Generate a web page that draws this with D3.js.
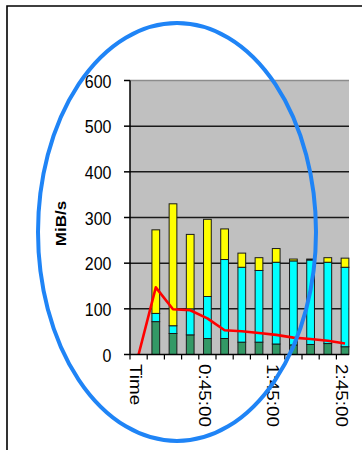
<!DOCTYPE html>
<html>
<head>
<meta charset="utf-8">
<script src="https://cdn.jsdelivr.net/npm/d3@7"></script>
<style>
  body { margin: 0; background: #fff; }
  text { font-family: "Liberation Sans", Arial, sans-serif; fill: #000; }
</style>
</head>
<body>
<svg id="chart"></svg>
<script>
// Values (MiB/s per 15 minute slot)
const categories = [
  "Time", "0:00:00", "0:15:00", "0:30:00", "0:45:00", "1:00:00", "1:15:00",
  "1:30:00", "1:45:00", "2:00:00", "2:15:00", "2:30:00", "2:45:00",
];
const greenValues = [0, 72, 46, 43, 35, 35, 27, 27, 23, 21, 22, 24, 17];
const cyanValues = [0, 18, 17, 57, 92, 173, 164, 157, 179, 184, 185, 178, 174];
const yellowValues = [0, 183, 267, 163, 169, 67, 31, 28, 30, 4, 2, 10, 20];
const lineValues = [0, 147, 99, 97, 79, 53, 51, 47, 43, 37, 34, 30, 24];
const yTicks = [0, 100, 200, 300, 400, 500, 600];
const xLabels = ["Time", "0:45:00", "1:45:00", "2:45:00"];
const yTitle = "MiB/s";

// Layout of the picture
const W = 362;
const H = 450;
const plot = { left: 130, top: 80.5, right: 349, bottom: 354.5 };
const bandEnd = 353.6;
const stretch = 1.18; // the source image was stretched vertically

const svg = d3.select("#chart").attr("width", W).attr("height", H);

svg.append("rect").attr("width", W).attr("height", H).attr("fill", "#fff");

// outer frame (only left and top edges are in view)
svg
  .append("path")
  .attr("d", "M7," + H + "V6H" + W)
  .attr("fill", "none")
  .attr("stroke", "#000")
  .attr("stroke-width", 1.6);

const xScale = d3
  .scaleBand()
  .domain(categories)
  .range([plot.left, bandEnd])
  .padding(0);
const yScale = d3
  .scaleLinear()
  .domain([0, 600])
  .range([plot.bottom, plot.top]);

// plot background
svg
  .append("rect")
  .attr("x", plot.left)
  .attr("y", plot.top)
  .attr("width", plot.right - plot.left)
  .attr("height", plot.bottom - plot.top)
  .attr("fill", "#c0c0c0");

// gridlines
svg
  .selectAll(".grid")
  .data(yTicks.filter(function (t) { return t > 0; }))
  .enter()
  .append("line")
  .attr("class", "grid")
  .attr("x1", plot.left)
  .attr("x2", plot.right)
  .attr("y1", function (d) { return yScale(d); })
  .attr("y2", function (d) { return yScale(d); })
  .attr("stroke", function (d) { return d === 600 ? "#8c8c8c" : "#1a1a1a"; })
  .attr("stroke-width", 1.5);

// stacked bars
const rows = categories.map(function (c, i) {
  return { cat: c, green: greenValues[i], cyan: cyanValues[i], yellow: yellowValues[i] };
});
const stack = d3.stack().keys(["green", "cyan", "yellow"]);
const colors = { green: "#339966", cyan: "#00ffff", yellow: "#ffff00" };
const barW = xScale.bandwidth() * 0.45;

svg
  .selectAll(".layer")
  .data(stack(rows))
  .enter()
  .append("g")
  .attr("class", "layer")
  .attr("fill", function (d) { return colors[d.key]; })
  .selectAll("rect")
  .data(function (d) {
    return d.filter(function (s) { return s[1] - s[0] > 0; });
  })
  .enter()
  .append("rect")
  .attr("x", function (d) {
    return xScale(d.data.cat) + (xScale.bandwidth() - barW) / 2;
  })
  .attr("y", function (d) { return yScale(d[1]); })
  .attr("width", barW)
  .attr("height", function (d) { return yScale(d[0]) - yScale(d[1]); })
  .attr("stroke", "#1a1a1a")
  .attr("stroke-width", 1);

// red line
const line = d3
  .line()
  .x(function (d, i) { return xScale(categories[i]) + xScale.bandwidth() / 2; })
  .y(function (d) { return yScale(d); });
svg
  .append("path")
  .datum(lineValues)
  .attr("d", line)
  .attr("fill", "none")
  .attr("stroke", "#ff0000")
  .attr("stroke-width", 2.6)
  .attr("stroke-linejoin", "round");

// y axis
svg
  .append("line")
  .attr("x1", plot.left)
  .attr("x2", plot.left)
  .attr("y1", plot.top)
  .attr("y2", plot.bottom)
  .attr("stroke", "#000")
  .attr("stroke-width", 1.5);
svg
  .selectAll(".ytick")
  .data(yTicks)
  .enter()
  .append("line")
  .attr("class", "ytick")
  .attr("x1", plot.left - 6)
  .attr("x2", plot.left)
  .attr("y1", function (d) { return yScale(d); })
  .attr("y2", function (d) { return yScale(d); })
  .attr("stroke", "#000")
  .attr("stroke-width", 1.5);
svg
  .selectAll(".ylabel")
  .data(yTicks)
  .enter()
  .append("text")
  .attr("class", "ylabel")
  .attr("text-anchor", "end")
  .attr("font-size", 16)
  .attr("transform", function (d) {
    return "translate(111.5," + (yScale(d) + 7) + ") scale(1," + stretch + ")";
  })
  .text(function (d) { return d; });

// y title
svg
  .append("text")
  .attr("text-anchor", "middle")
  .attr("font-size", 14.5)
  .attr("font-weight", "bold")
  .attr("transform", "translate(66,223.5) rotate(-90) scale(" + stretch + ",1)")
  .text(yTitle);

// x axis
svg
  .append("line")
  .attr("x1", plot.left)
  .attr("x2", plot.right)
  .attr("y1", plot.bottom)
  .attr("y2", plot.bottom)
  .attr("stroke", "#000")
  .attr("stroke-width", 1.5);
svg
  .selectAll(".xtick")
  .data(categories)
  .enter()
  .append("line")
  .attr("class", "xtick")
  .attr("x1", function (d) { return xScale(d); })
  .attr("x2", function (d) { return xScale(d); })
  .attr("y1", plot.bottom)
  .attr("y2", plot.bottom + 5)
  .attr("stroke", "#000")
  .attr("stroke-width", 1.2);
svg
  .selectAll(".xlabel")
  .data(xLabels)
  .enter()
  .append("text")
  .attr("class", "xlabel")
  .attr("font-size", 16)
  .attr("transform", function (d) {
    const cx = xScale(d) + xScale.bandwidth() / 2 - 8.75;
    return "translate(" + cx + ",364) rotate(90) scale(" + stretch + ",1)";
  })
  .text(function (d) { return d; });

// blue hand-drawn ellipse on top
svg
  .append("ellipse")
  .attr("cx", 177)
  .attr("cy", 232)
  .attr("rx", 139)
  .attr("ry", 209)
  .attr("fill", "none")
  .attr("stroke", "#1f84f6")
  .attr("stroke-width", 4);
</script>
</body>
</html>
